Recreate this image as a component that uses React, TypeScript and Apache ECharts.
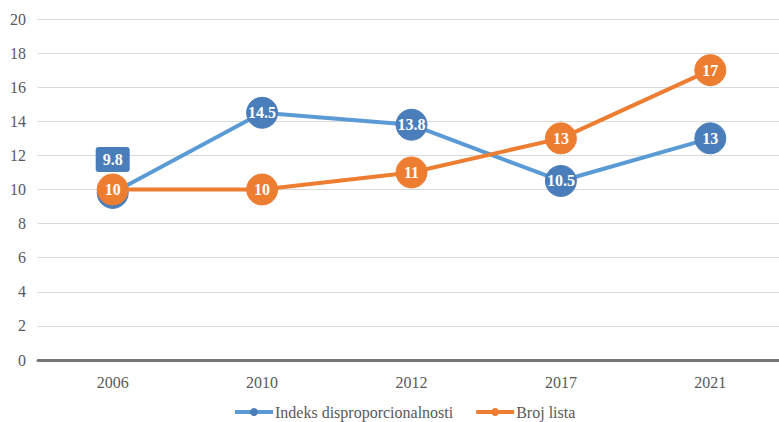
import React, { useEffect, useRef } from "react";
import * as echarts from "echarts";

const categories = ["2006", "2010", "2012", "2017", "2021"];
const indeksValues = [9.8, 14.5, 13.8, 10.5, 13];
const brojValues = [10, 10, 11, 13, 17];
const yTicks = { min: 0, max: 20, interval: 2 };

const FONT = "Liberation Serif, Times New Roman, serif";

export default function App() {
  const ref = useRef<HTMLDivElement>(null);
  useEffect(() => {
    if (!ref.current) return;
    const chart = echarts.init(ref.current, null, { renderer: "svg" });
    const labelBase = {
      show: true,
      position: "inside",
      color: "#ffffff",
      fontFamily: FONT,
      fontWeight: "bold",
      fontSize: 16,
    };
    chart.setOption({
      animation: false,
      textStyle: { fontFamily: FONT },
      grid: { left: 38, right: 0, top: 19, bottom: 62 },
      legend: {
        top: 404,
        left: 233,
        padding: 0,
        itemWidth: 38,
        itemHeight: 10,
        itemGap: 21,
        lineStyle: { width: 4 },
        textStyle: { color: "#595959", fontSize: 16, fontFamily: FONT, padding: [0, 0, 0, -3] },
        data: ["Indeks disproporcionalnosti", "Broj lista"],
      },
      xAxis: {
        type: "category",
        data: categories,
        axisLine: { lineStyle: { color: "#767676", width: 3 } },
        axisTick: { show: false },
        axisLabel: { color: "#595959", fontSize: 16, fontFamily: FONT, margin: 14 },
      },
      yAxis: {
        type: "value",
        min: yTicks.min,
        max: yTicks.max,
        interval: yTicks.interval,
        axisLine: { show: false },
        axisTick: { show: false },
        axisLabel: { color: "#595959", fontSize: 16, fontFamily: FONT, margin: 12 },
        splitLine: { lineStyle: { color: "#d9d9d9", width: 1 } },
      },
      series: [
        {
          name: "Indeks disproporcionalnosti",
          type: "line",
          data: indeksValues.map((v, i) =>
            i === 0
              ? {
                  value: v,
                  label: {
                    position: "top",
                    distance: 5,
                    backgroundColor: "#4a7ebb",
                    borderRadius: 3,
                    padding: [5, 7, 4, 7],
                  },
                }
              : v
          ),
          symbol: "circle",
          symbolSize: 31,
          lineStyle: { color: "#5b9bd5", width: 4 },
          itemStyle: { color: "#4a7ebb", borderColor: "#4a7ebb" },
          label: labelBase,
          z: 2,
        },
        {
          name: "Broj lista",
          type: "line",
          data: brojValues,
          symbol: "circle",
          symbolSize: 31,
          lineStyle: { color: "#ed7d31", width: 4 },
          itemStyle: { color: "#ed7d31", borderColor: "#ed7d31" },
          label: labelBase,
          z: 3,
        },
      ],
    });
    return () => chart.dispose();
  }, []);
  return (
    <div style={{ position: "absolute", left: 0, top: 0, width: 779, height: 422, overflow: "hidden", background: "#fff" }}>
      <div ref={ref} style={{ width: 785, height: 422 }} />
    </div>
  );
}
